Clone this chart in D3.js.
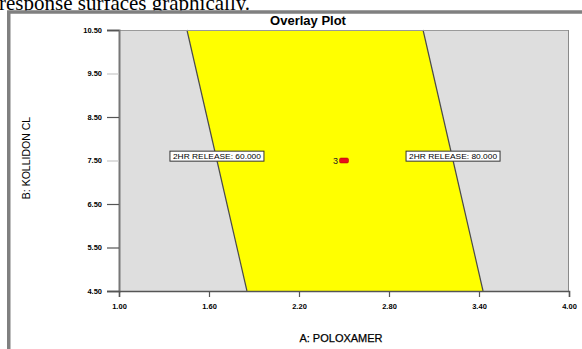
<!DOCTYPE html>
<html>
<head>
<meta charset="utf-8">
<script src="https://cdn.jsdelivr.net/npm/d3@7"></script>
<style>
  html, body { margin: 0; padding: 0; background: #fff; overflow: hidden; }
  svg { display: block; }
</style>
</head>
<body>
<svg id="chart" width="582" height="349"></svg>
<script>
// Factor ranges and tick labels
const xTicks = [1.00, 1.60, 2.20, 2.80, 3.40, 4.00];
const yTicks = [4.50, 5.50, 6.50, 7.50, 8.50, 9.50, 10.50];
const xDomain = [1.00, 4.00];
const yDomain = [4.50, 10.50];

// Contour boundaries of the 2HR RELEASE response (A, B pairs)
const contour60 = [[1.853, 4.50], [1.653, 7.50], [1.453, 10.50]];
const contour80 = [[3.427, 4.50], [3.227, 7.50], [3.027, 10.50]];
const contourLabels = ["2HR RELEASE: 60.000", "2HR RELEASE: 80.000"];
const labelY = 7.60;

// Design point shown in the plot
const designPoints = [{ a: 2.50, b: 7.50, count: 3 }];

const svg = d3.select("#chart");

// Caption text above the frame
svg.append("text")
  .attr("x", -1).attr("y", 10)
  .attr("font-family", "Liberation Serif, Times New Roman, serif")
  .attr("font-size", 21)
  .attr("fill", "#000")
  .text("response surfaces graphically.");

// Outer frame
svg.append("rect")
  .attr("x", 8.75).attr("y", 12)
  .attr("width", 700).attr("height", 500)
  .attr("fill", "#fff")
  .attr("stroke", "#808080")
  .attr("stroke-width", 3.5);

const plot = { left: 119, right: 569, top: 30, bottom: 291 };
const x = d3.scaleLinear().domain(xDomain).range([plot.left, plot.right]);
const y = d3.scaleLinear().domain(yDomain).range([plot.bottom, plot.top]);

// Title
svg.append("text")
  .attr("x", 308).attr("y", 25)
  .attr("text-anchor", "middle")
  .attr("font-family", "Liberation Sans, Arial, sans-serif")
  .attr("font-weight", "bold")
  .attr("font-size", 13)
  .text("Overlay Plot");

// Plot background (outside the feasible region)
svg.append("rect")
  .attr("x", plot.left).attr("y", plot.top)
  .attr("width", plot.right - plot.left).attr("height", plot.bottom - plot.top)
  .attr("fill", "#dedede");

// Feasible (yellow) region between the two contours
const line = d3.line().x(d => x(d[0])).y(d => y(d[1]));
const region = contour60.concat(contour80.slice().reverse());
svg.append("path")
  .attr("d", line(region) + "Z")
  .attr("fill", "#ffff00");

// Contour lines
[contour60, contour80].forEach(c => {
  svg.append("path")
    .attr("d", line(c))
    .attr("fill", "none")
    .attr("stroke", "#4a4a4a")
    .attr("stroke-width", 1.2);
});

// Plot borders
svg.append("line").attr("x1", plot.left).attr("x2", plot.right)
  .attr("y1", plot.top + 0.5).attr("y2", plot.top + 0.5)
  .attr("stroke", "#9a9a9a").attr("stroke-width", 1);
svg.append("line").attr("x1", plot.right - 0.5).attr("x2", plot.right - 0.5)
  .attr("y1", plot.top).attr("y2", plot.bottom)
  .attr("stroke", "#8a8a8a").attr("stroke-width", 1);

// Axes
const fmt = d3.format(".2f");
const yAxis = d3.axisLeft(y).tickValues(yTicks).tickFormat(fmt).tickSize(12).tickPadding(5);
const xAxis = d3.axisBottom(x).tickValues(xTicks).tickFormat(fmt).tickSize(6).tickPadding(7);

const gy = svg.append("g").attr("transform", `translate(${plot.left},0)`).call(yAxis);
const gx = svg.append("g").attr("transform", `translate(0,${plot.bottom})`).call(xAxis);

[gx, gy].forEach(g => {
  g.select(".domain").attr("stroke", "#555").attr("stroke-width", 1.5);
  g.selectAll(".tick line").attr("stroke", "#555").attr("stroke-width", 1.2);
  g.selectAll(".tick text")
    .attr("font-family", "Liberation Sans, Arial, sans-serif")
    .attr("font-weight", "bold")
    .attr("font-size", 7.5)
    .attr("fill", "#000");
});
gy.selectAll(".tick line").attr("stroke", d => (d === 9.5 || d === 7.5) ? "#c8c8c8" : "#555");
gy.select(".domain").attr("stroke", "#777").attr("stroke-width", 2);

// Axis titles
svg.append("text")
  .attr("x", 341).attr("y", 342)
  .attr("text-anchor", "middle")
  .attr("font-family", "Liberation Sans, Arial, sans-serif")
  .attr("font-size", 11)
  .attr("stroke", "#000").attr("stroke-width", 0.25)
  .attr("fill", "#000")
  .text("A: POLOXAMER");

svg.append("text")
  .attr("transform", "translate(30,158) rotate(-90)")
  .attr("text-anchor", "middle")
  .attr("font-family", "Liberation Sans, Arial, sans-serif")
  .attr("font-size", 10.5)
  .attr("fill", "#000")
  .text("B: KOLLIDON CL");

// Contour labels in boxes centred on each line
[contour60, contour80].forEach((c, i) => {
  const cx = x(c[1][0]);
  const cy = y(labelY);
  const g = svg.append("g");
  g.append("rect")
    .attr("x", cx - 47).attr("y", cy - 5)
    .attr("width", 94).attr("height", 10)
    .attr("fill", "#fff")
    .attr("stroke", "#333")
    .attr("stroke-width", 1);
  g.append("text")
    .attr("x", cx).attr("y", cy + 3)
    .attr("text-anchor", "middle")
    .attr("font-family", "Liberation Sans, Arial, sans-serif")
    .attr("font-size", 8)
    .attr("fill", "#000")
    .attr("textLength", 88).attr("lengthAdjust", "spacingAndGlyphs")
    .text(contourLabels[i]);
});

// Design point marker
designPoints.forEach(p => {
  svg.append("rect")
    .attr("x", x(p.a) - 4.5).attr("y", y(p.b) - 2.5)
    .attr("width", 9).attr("height", 5)
    .attr("rx", 1.5)
    .attr("fill", "#e8101a")
    .attr("stroke", "#a00").attr("stroke-width", 0.5);
  svg.append("text")
    .attr("x", x(p.a) - 6).attr("y", y(p.b) + 3)
    .attr("text-anchor", "end")
    .attr("font-family", "Liberation Sans, Arial, sans-serif")
    .attr("font-size", 9)
    .attr("fill", "#222")
    .text(p.count);
});
</script>
</body>
</html>
